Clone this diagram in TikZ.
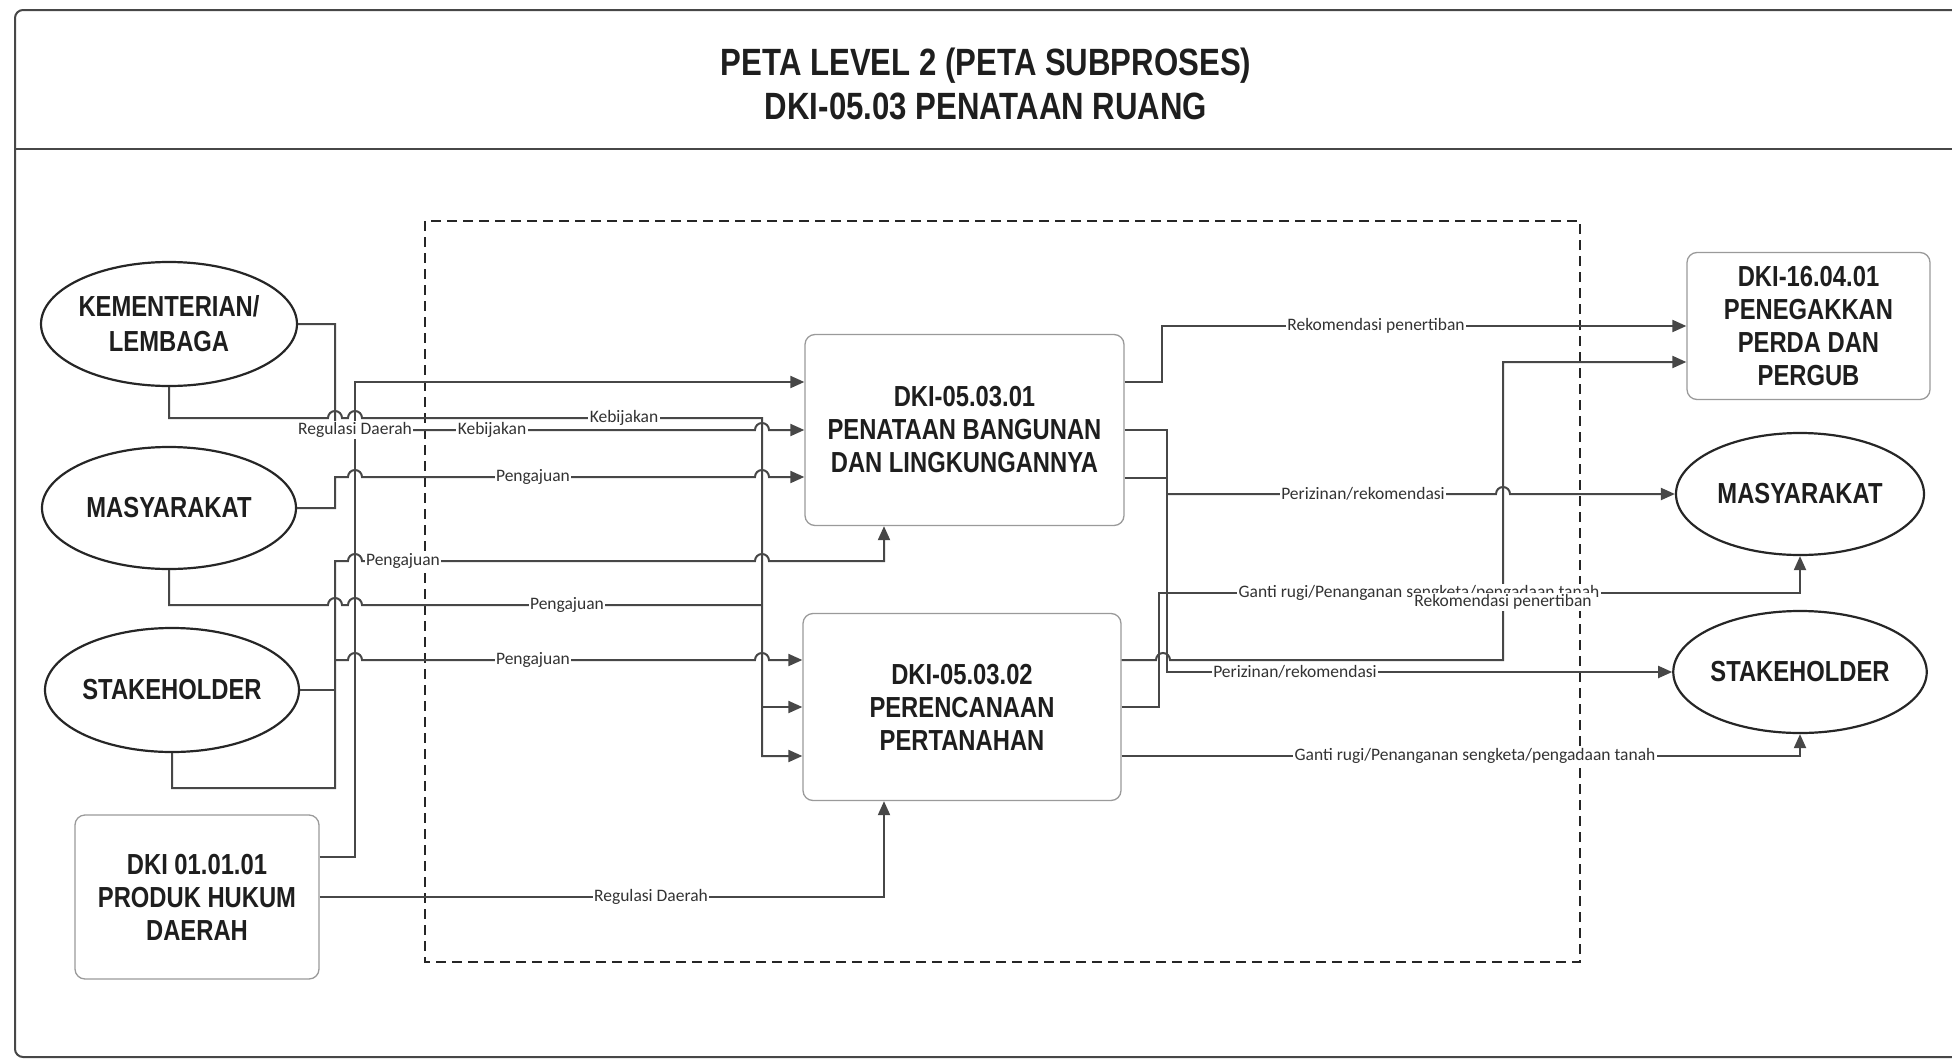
\documentclass[tikz,border=0pt]{standalone}
\usepackage{fontspec}
\usetikzlibrary{arrows.meta,shapes.geometric}
\newfontfamily\condfont[FakeStretch=0.82]{Liberation Sans}
\newfontfamily\labfont{Carlito}
\definecolor{linec}{HTML}{474747}
\definecolor{txtc}{HTML}{1E1E1E}
\definecolor{boxc}{HTML}{9A9A9A}
\newcommand\hp[2]{-- ({#1-7},#2) arc[start angle=180,end angle=0,radius=7pt]}
\tikzset{
  frameline/.style={draw=linec,line width=2pt},
  ell/.style={ellipse,draw=black!85,line width=2.2pt,inner sep=0pt,align=center,
    text=txtc,font=\condfont\bfseries\fontsize{29}{35}\selectfont},
  procbox/.style={rectangle,rounded corners=10pt,draw=boxc,line width=1.3pt,inner sep=0pt,
    align=center,text=txtc,font=\condfont\bfseries\fontsize{29}{33}\selectfont},
  conn/.style={draw=linec,line width=2pt,line join=miter},
  flow/.style={conn,-{Triangle[length=14pt,width=12pt]}},
  lbl/.style={fill=white,inner sep=1.5pt,text=black!80,font=\labfont\fontsize{17.5}{20}\selectfont},
  scopebox/.style={draw=black!85,line width=1.8pt,dash pattern=on 10pt off 6pt},
}
\begin{document}
\begin{tikzpicture}[x=1pt,y=-1pt]
\useasboundingbox (0,0) rectangle (1952,1060);
% frame
\draw[frameline,rounded corners=8pt] (1952,10) -- (15,10) -- (15,1057) -- (1952,1057);
\draw[frameline] (15,149) -- (1952,149);
\node[text=txtc,align=center,font=\condfont\bfseries\fontsize{38}{44}\selectfont] (title) at (986,84)
  {PETA LEVEL 2 (PETA SUBPROSES)\\DKI-05.03 PENATAAN RUANG};
% scope boundary
\draw[scopebox] (425,221) rectangle (1580,962);
% nodes
\node[ell,minimum width=254pt,minimum height=124pt] (kem) at (169,324) {KEMENTERIAN/\\LEMBAGA};
\node[ell,minimum width=254pt,minimum height=122pt] (masL) at (169,508) {MASYARAKAT};
\node[ell,minimum width=254pt,minimum height=124pt] (stkL) at (172,690) {STAKEHOLDER};
\node[procbox,minimum width=244pt,minimum height=164pt] (prod) at (197,897) {DKI 01.01.01\\PRODUK HUKUM\\DAERAH};
\node[procbox,minimum width=319pt,minimum height=191pt] (p1) at (964.5,430) {DKI-05.03.01\\PENATAAN BANGUNAN\\DAN LINGKUNGANNYA};
\node[procbox,minimum width=318pt,minimum height=187pt] (p2) at (962,707) {DKI-05.03.02\\PERENCANAAN\\PERTANAHAN};
\node[procbox,minimum width=243pt,minimum height=147pt] (peg) at (1808.5,326) {DKI-16.04.01\\PENEGAKKAN\\PERDA DAN\\PERGUB};
\node[ell,minimum width=248pt,minimum height=122pt] (masR) at (1800,494) {MASYARAKAT};
\node[ell,minimum width=248pt,minimum height=122pt] (stkR) at (1800,672) {STAKEHOLDER};
% junction coordinates
\coordinate (busK) at (762,707);
\coordinate (jS) at (335,660);
\coordinate (jP) at (1167,494);
% ---- left side connectors
\draw[flow] (kem.east) -- (335,324) -- (335,430) \hp{762}{430} -- (p1.west);
\draw[flow] (kem.south) -- (169,418) \hp{335}{418} \hp{355}{418} -- (762,418) -- (762,756) -- ([yshift=-49pt]p2.west);
\draw[flow] (busK) -- (p2.west);
\draw[flow] ([yshift=40pt]prod.east) -- (355,857) -- (355,382) -- ([yshift=48pt]p1.west);
\draw[flow] (masL.east) -- (335,508) -- (335,477) \hp{355}{477} \hp{762}{477} -- ([yshift=-47pt]p1.west);
\draw[conn] (masL.south) -- (169,605) \hp{335}{605} \hp{355}{605} -- (762,605);
\draw[flow] (stkL.south) -- (172,788) -- (335,788) -- (335,561) \hp{355}{561} \hp{762}{561} -- (884,561) -- ([xshift=-80.5pt]p1.south);
\draw[conn] (stkL.east) -- (335,690);
\draw[flow] (jS) \hp{355}{660} \hp{762}{660} -- ([yshift=47pt]p2.west);
\draw[flow] (prod.east) -- (884,897) -- ([xshift=-78pt]p2.south);
% ---- right side connectors
\draw[flow] ([yshift=48pt]p1.east) -- (1162,382) -- (1162,326) -- (peg.west);
\draw[flow] (p1.east) -- (1167,430) -- (1167,672) -- (stkR.west);
\draw[conn] ([yshift=-48pt]p1.east) -- (1167,478);
\draw[flow] (jP) \hp{1503}{494} -- (masR.west);
\draw[flow] ([yshift=47pt]p2.east) \hp{1163}{660} -- (1503,660) -- (1503,362) -- ([yshift=-36pt]peg.west);
\draw[flow] (p2.east) -- (1159,707) -- (1159,593) -- (1800,593) -- (masR.south);
\draw[flow] ([yshift=-49pt]p2.east) -- (1800,756) -- (stkR.south);
% ---- labels
\node[lbl] (l1) at (624,418) {Kebijakan};
\node[lbl] (l2) at (492,430) {Kebijakan};
\node[lbl] (l3) at (355,430) {Regulasi Daerah};
\node[lbl] (l4) at (533,477) {Pengajuan};
\node[lbl] (l5) at (403,561) {Pengajuan};
\node[lbl] (l6) at (567,605) {Pengajuan};
\node[lbl] (l7) at (533,660) {Pengajuan};
\node[lbl] (l8) at (651,897) {Regulasi Daerah};
\node[lbl] (l9) at (1376,326) {Rekomendasi penertiban};
\node[lbl] (l10) at (1363,494) {Perizinan/rekomendasi};
\node[lbl] (l11) at (1295,672) {Perizinan/rekomendasi};
\node[lbl] (l12) at (1419,593) {Ganti rugi/Penanganan sengketa/pengadaan tanah};
\node[lbl] (l13) at (1503,602) {Rekomendasi penertiban};
\node[lbl] (l14) at (1475,756) {Ganti rugi/Penanganan sengketa/pengadaan tanah};
\end{tikzpicture}
\end{document}
